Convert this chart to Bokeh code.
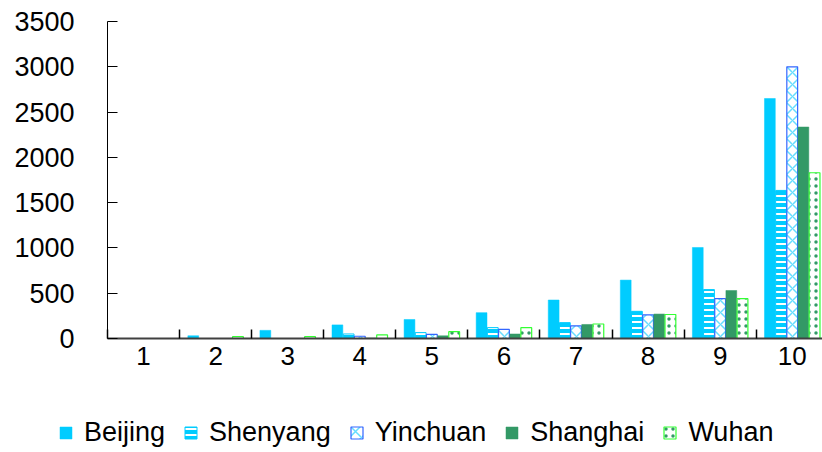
from bokeh.plotting import figure
from bokeh.models import (ColumnDataSource, Range1d, FixedTicker, Legend, LegendItem)
from bokeh.transform import dodge
from bokeh.embed import file_html
from bokeh.resources import INLINE

# Data
categories = ["1", "2", "3", "4", "5", "6", "7", "8", "9", "10"]
beijing = [0, 30, 90, 150, 210, 285, 425, 645, 1005, 2650]
shenyang = [0, 0, 0, 50, 65, 120, 175, 300, 540, 1635]
yinchuan = [0, 0, 0, 25, 45, 100, 140, 260, 440, 3000]
shanghai = [0, 0, 0, 5, 30, 50, 155, 270, 530, 2335]
wuhan = [0, 20, 20, 40, 75, 120, 160, 265, 440, 1830]
y_ticks = [0, 500, 1000, 1500, 2000, 2500, 3000, 3500]
series_names = ["Beijing", "Shenyang", "Yinchuan", "Shanghai", "Wuhan"]

FONT = "Liberation Sans"
CYAN = "#00CCFF"

styles = [
    dict(fill_color=CYAN, line_color=CYAN, line_width=0.5),
    dict(fill_color=CYAN, line_color=CYAN, line_width=1,
         hatch_pattern="-", hatch_color="white", hatch_weight=2, hatch_scale=6),
    dict(fill_color="white", line_color="#3366FF", line_width=1.2,
         hatch_pattern="x", hatch_color="#66DDFF", hatch_weight=1.5, hatch_scale=12),
    dict(fill_color="#339966", line_color="#339966", line_width=0.5),
    dict(fill_color="white", line_color="#33FF33", line_width=1.2,
         hatch_pattern=".", hatch_color="#339966", hatch_weight=2, hatch_scale=7),
]

# The frame spans the whole canvas; both axes are pinned inside it so the
# legend underneath the bars can sit in the same drawing area.
x_lo, x_hi = 0.5, 10.42
y_lo, y_hi = 0, 3500
px_x = 715.0 / (x_hi - x_lo)
px_y = 317.0 / (y_hi - y_lo)
p = figure(width=822, height=452, output_backend="svg", toolbar_location=None,
           x_range=Range1d(x_lo - 107 / px_x, x_hi),
           y_range=Range1d(y_lo - 114 / px_y, y_hi + 21 / px_y),
           min_border_left=0, min_border_right=0, min_border_top=0,
           min_border_bottom=0)
p.outline_line_color = None
p.grid.grid_line_color = None
p.background_fill_color = "white"
p.border_fill_color = "white"

xs = list(range(1, len(categories) + 1))
src = ColumnDataSource(dict(x=xs, beijing=beijing, shenyang=shenyang,
                            yinchuan=yinchuan, shanghai=shanghai, wuhan=wuhan))
cols = ["beijing", "shenyang", "yinchuan", "shanghai", "wuhan"]

bw = 0.15
offsets = [-0.31, -0.155, 0.0, 0.155, 0.31]

renderers = []
for col, off, st in zip(cols, offsets, styles):
    renderers.append(p.vbar(x=dodge("x", off), top=col, width=bw, source=src, **st))

# Y axis: ticks point inward, labels far left
ya = p.yaxis[0]
ya.fixed_location = x_lo
ya.bounds = (y_lo, y_hi)
ya.ticker = FixedTicker(ticks=y_ticks)
ya.major_tick_in = 10
ya.major_tick_out = 0
ya.minor_tick_in = 0
ya.minor_tick_out = 0
ya.axis_line_color = "black"
ya.major_tick_line_color = "black"
ya.major_label_standoff = 33
ya.major_label_text_font = FONT
ya.major_label_text_font_size = "27px"
ya.major_label_text_color = "black"

# X axis: labels at group centers, ticks at group boundaries
xa = p.xaxis[0]
xa.fixed_location = y_lo
xa.bounds = (x_lo, x_hi)
xa.ticker = FixedTicker(ticks=xs, minor_ticks=[i + 0.5 for i in range(0, 11)])
xa.major_label_overrides = {x: c for x, c in zip(xs, categories)}
xa.major_tick_in = 0
xa.major_tick_out = 0
xa.minor_tick_in = 9
xa.minor_tick_out = 0
xa.minor_tick_line_color = "black"
xa.minor_tick_line_width = 1.5
xa.axis_line_color = "#404040"
xa.axis_line_width = 2
xa.major_label_standoff = 8
xa.major_label_text_font = FONT
xa.major_label_text_font_size = "26px"
xa.major_label_text_color = "black"

legend = Legend(items=[LegendItem(label=n, renderers=[r])
                       for n, r in zip(series_names, renderers)],
                orientation="horizontal", location=(58, 4),
                glyph_width=15, glyph_height=15, label_standoff=11, spacing=18,
                padding=0, margin=0, border_line_alpha=0, background_fill_alpha=0,
                label_text_font=FONT, label_text_font_size="27px",
                label_text_color="black")
p.add_layout(legend, "center")

open("out.html", "w").write(file_html(p, INLINE))
